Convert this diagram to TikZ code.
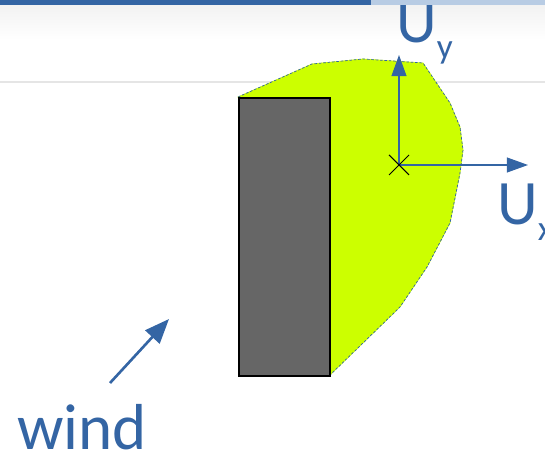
\documentclass[tikz,border=0pt]{standalone}
\usepackage{fontspec}
\setmainfont{Carlito}
\usepackage{tikz}
\usetikzlibrary{arrows.meta,positioning,calc}

\definecolor{slideblue}{HTML}{3465A4}
\definecolor{barlight}{HTML}{B8CCE4}
\definecolor{wake}{HTML}{CCFF00}
\definecolor{block}{HTML}{666666}

\newcommand{\velsub}[1]{\raisebox{-9pt}{\fontsize{20}{22}\selectfont #1}}

\begin{document}
\begin{tikzpicture}[
  x=0.02cm, y=-0.02cm,
  building/.style={rectangle, draw=black, line width=1.2pt, fill=block,
                   minimum width=1.82cm, minimum height=5.56cm, inner sep=0pt},
  axis/.style={-{Triangle[length=12pt, width=8.5pt]}, slideblue, line width=0.7pt},
  windarrow/.style={-{Triangle[length=14pt, width=11pt]}, slideblue, line width=1.5pt},
  vel/.style={text=slideblue, font=\fontsize{36}{40}\selectfont, inner sep=0pt, anchor=base west},
  label/.style={text=slideblue, font=\fontsize{37}{42}\selectfont, inner sep=0pt, anchor=base west}
]
\useasboundingbox (0,0) rectangle (545,459);

%% Slide background
\shade[top color=black!5, bottom color=white] (0,5) rectangle (545,40);
\draw[black!10, line width=0.6pt] (0,82) -- (545,82);

%% Wake region behind the building
\draw[wake, fill=wake] (238,97) -- (312,64) -- (363,59) -- (423,63)
  -- (450,103) -- (460,127) -- (463,150) -- (460,173) -- (450,223)
  -- (427,267) -- (400,307) -- (363,343) -- (330,375) -- cycle;
\draw[slideblue, dashed, line width=0.4pt, dash pattern=on 1.5pt off 1pt]
  (238,97) -- (312,64) -- (363,59) -- (423,63) -- (450,103) -- (460,127)
  -- (463,150) -- (460,173) -- (450,223) -- (427,267) -- (400,307)
  -- (363,343) -- (330,375);

%% Building
\node[building, anchor=north west] (bldg) at (238,97) {};

%% Velocity components
\coordinate (centre) at (399,165);
\coordinate (ytip) at (399,55);
\coordinate (xtip) at (528,165);
\draw[axis] (centre) -- (ytip);
\draw[axis] (centre) -- (xtip);
\draw[line width=0.6pt] ($(centre)+(-10,-10)$) -- ($(centre)+(10,10)$)
  ($(centre)+(-10,10)$) -- ($(centre)+(10,-10)$);

\node[vel] (uy) at (396,43) {U\velsub{y}};
\node[vel] (ux) at (497,225) {U\velsub{x}};

%% Wind direction
\coordinate (wstart) at (110,383);
\coordinate (wtip) at (169,319);
\draw[windarrow] (wstart) -- (wtip);
\node[label] (wind) at (17,450) {wind};

%% Slide header bar
\fill[slideblue] (0,0) rectangle (371,5);
\fill[barlight] (371,0) rectangle (545,5);

\end{tikzpicture}
\end{document}
